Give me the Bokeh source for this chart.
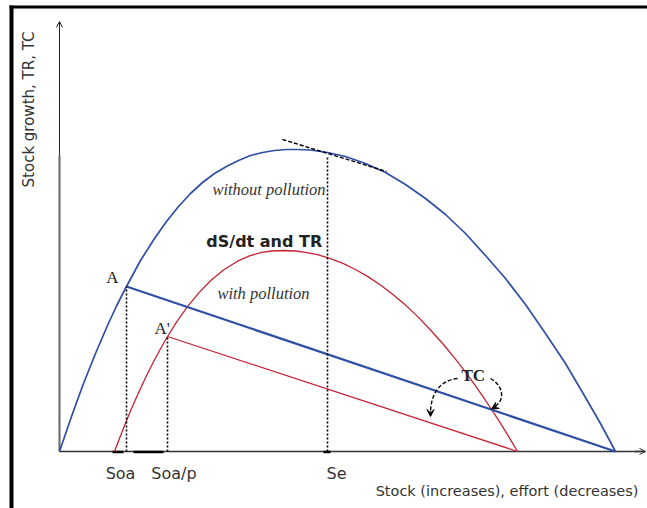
from math import pi
from bokeh.plotting import figure
from bokeh.models import Range1d, Arrow, OpenHead, VeeHead
from bokeh.embed import file_html
from bokeh.resources import INLINE
from bokeh.core.properties import value

# ---- data (arbitrary stock / growth units) ----
# stock growth without pollution
stock_clean = [0, 12, 24, 36, 48, 57, 67, 81, 95, 107, 119, 131, 143, 155, 167, 179, 191,
               203, 215, 227, 238, 251, 268, 286, 306, 326, 346, 366, 386, 406, 426,
               446, 466, 486, 506, 526, 541, 556]
growth_clean = [0, 35, 68, 98, 126, 145.5, 165, 191, 213, 230, 245, 258, 269, 278, 285, 291, 296,
                299, 301, 302, 302, 301.5, 299, 295, 288, 279, 267, 253, 237, 218, 196,
                173, 147, 118, 88, 54, 28, 0]
# stock growth with pollution
stock_poll = [55, 59, 63, 67, 71, 76, 81, 87, 94, 101, 108, 118, 128, 140, 151, 164, 178,
              190, 201, 212, 224, 236, 246, 258, 271, 284, 296, 308, 321, 334, 346, 358,
              371, 384, 396, 406, 416, 424, 431, 439, 446, 452, 458]
growth_poll = [0, 10.6, 20.8, 30.7, 40.4, 52, 63, 75.8, 89.8, 102.8, 115, 130.8, 144.9,
               159.4, 170.7, 181.5, 190.3, 195.6, 198.8, 200.5, 201, 200.5, 199.2, 196.8,
               192.9, 187.8, 182, 175.1, 166.5, 156.6, 146.4, 135.1, 121.5, 107, 92.4,
               79.4, 65.7, 54.2, 43.5, 31.3, 20.1, 10.2, 0]

# key stocks and values
soa, soa_p, se = 67, 108, 268
a_val, a_p_val, se_val = 165, 115, 299
k_clean, k_poll = 556, 458
tick_labels = ["Soa", "Soa/p", "Se"]

BLUE = "#2f4fa6"
RED = "#c62232"

p = figure(width=647, height=508, x_range=Range1d(-59, 588), y_range=Range1d(-57, 451),
           min_border=0, output_backend="svg", toolbar_location=None,
           x_axis_location=None, y_axis_location=None)
p.grid.visible = False
p.outline_line_color = None
p.background_fill_color = "white"
p.border_fill_color = "white"

# frame of the picture (left and top black rules)
p.segment(x0=[-48, -50], y0=[-57, 444.5], x1=[-48, 588], y1=[446, 444.5],
          line_color="black", line_width=[4, 3])

# axes
p.segment(x0=[0], y0=[0], x1=[0], y1=[296], line_color="#666666", line_width=2)
p.segment(x0=[0], y0=[296], x1=[0], y1=[429], line_color="#222222", line_width=1)
p.add_layout(Arrow(end=OpenHead(size=6, line_color="#222222", line_width=1),
                   x_start=0, y_start=420, x_end=0, y_end=430,
                   line_color="#222222", line_width=1))
p.segment(x0=[0], y0=[0], x1=[586], y1=[0], line_color="#333333", line_width=1.4)
p.add_layout(Arrow(end=OpenHead(size=6, line_color="#333333", line_width=1),
                   x_start=575, y_start=0, x_end=586, y_end=0,
                   line_color="#333333", line_width=1.4))
# small thick marks on the stock axis
p.segment(x0=[53, 74, 264], y0=[-0.5, -0.5, -0.5], x1=[64, 104, 271], y1=[-0.5, -0.5, -0.5],
          line_color="black", line_width=2.5)

# growth curves
p.line(stock_clean, growth_clean, line_color=BLUE, line_width=1.7, line_join="round")
p.line(stock_poll, growth_poll, line_color=RED, line_width=1.3, line_join="round")

# TC lines
p.line([soa, k_clean], [a_val, 0], line_color=BLUE, line_width=2.2)
p.line([soa_p, k_poll], [a_p_val, 0], line_color=RED, line_width=1.3)

# dotted verticals
p.segment(x0=[soa, soa_p, se], y0=[0, 0, 0], x1=[soa, soa_p, se], y1=[a_val, a_p_val, se_val - 3],
          line_color="black", line_width=1.6, line_dash="2 2")

# tangent at Se
p.line([se - 45, se + 59], [se_val + 13, se_val - 19], line_color="black",
       line_width=1.4, line_dash="4 2")

# curved dashed arrows near TC
p.bezier(x0=[398, 431], y0=[73, 73], x1=[371, 435], y1=[38, 45],
         cx0=[379, 444], cy0=[71, 66], cx1=[371, 446], cy1=[56, 51],
         line_color="black", line_width=1.4, line_dash="4 2")
p.add_layout(Arrow(end=VeeHead(size=7, fill_color="black", line_color="black"),
                   x_start=371, y_start=40, x_end=371, y_end=35,
                   line_color="black", line_width=1.2))
p.add_layout(Arrow(end=VeeHead(size=7, fill_color="black", line_color="black"),
                   x_start=437, y_start=45.5, x_end=432, y_end=42.5,
                   line_color="black", line_width=1.2))

# texts
p.text(x=[209.5, 204], y=[261.7, 158], text=["without pollution", "with pollution"],
       text_font=value("Liberation Serif"), text_font_style="italic",
       text_font_size="16.5px", text_color="#333333", text_align="center",
       text_baseline="alphabetic")
p.text(x=[204.8], y=[210.5], text=["dS/dt and TR"], text_font=value("DejaVu Sans"),
       text_font_style="bold", text_font_size="16px", text_color="#222222",
       text_align="center", text_baseline="alphabetic")
p.text(x=[53, 102.7], y=[174.3, 122.7], text=["A", "A'"],
       text_font=value("Liberation Serif"), text_font_size="17px", text_color="#222222",
       text_align="center", text_baseline="alphabetic")
p.text(x=[413.8], y=[76], text=["TC"], text_font=value("Liberation Serif"),
       text_font_style="bold", text_font_size="17px", text_color="#222222",
       text_align="center", text_baseline="alphabetic")
p.text(x=[soa - 6, soa_p + 6.5, se + 9], y=[-22.3, -22.3, -22.3], text=tick_labels,
       text_font=value("DejaVu Sans"), text_font_size="16px", text_color="#333333",
       text_align="center", text_baseline="alphabetic")
p.text(x=[579], y=[-39.7], text=["Stock (increases), effort (decreases)"],
       text_font=value("DejaVu Sans"), text_font_size="14.5px", text_color="#333333",
       text_align="right", text_baseline="alphabetic")
p.text(x=[-30.5], y=[342], text=["Stock growth, TR, TC"], angle=pi / 2,
       text_font=value("DejaVu Sans"), text_font_size="15px", text_color="#333333",
       text_align="center", text_baseline="middle")

open("out.html", "w").write(file_html(p, INLINE))
